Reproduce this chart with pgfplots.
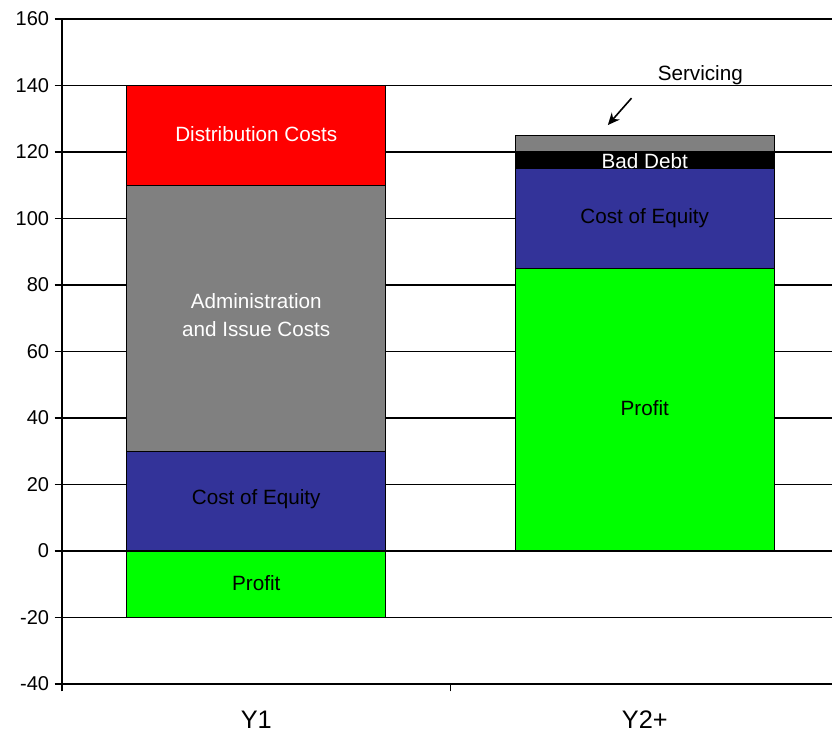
\documentclass[border=0pt]{standalone}
\usepackage{fontspec}
\setmainfont{Liberation Sans}
\usepackage{pgfplots}
\pgfplotsset{compat=1.18}
\usetikzlibrary{arrows.meta}
\definecolor{cRed}{HTML}{FF0000}
\definecolor{cGray}{HTML}{808080}
\definecolor{cBlue}{HTML}{333399}
\definecolor{cGreen}{HTML}{00FF00}
\begin{document}
\begin{tikzpicture}
\begin{axis}[
  scale only axis,
  width=577.5pt, height=498.75pt,
  xmin=-0.5, xmax=1.482, ymin=-40, ymax=160,
  axis lines=left,
  axis line style={-, line width=1.6pt},
  ytick={-40,-20,0,20,40,60,80,100,120,140,160},
  ymajorgrids,
  grid style={black, line width=1.1pt},
  tick style={black, line width=1.2pt},
  tick align=outside,
  major tick length=5.5pt,
  xtick={-0.5,0.5,1.5},
  xticklabels={},
  extra x ticks={0,1},
  extra x tick labels={Y1,Y2+},
  extra x tick style={major tick length=0pt,
    tick label style={font=\fontsize{19}{22}\selectfont, inner sep=0pt, anchor=north, yshift=-20pt}},
  yticklabel style={font=\fontsize{15}{18}\selectfont, inner sep=0pt, xshift=-4pt},
  /pgf/number format/assume math mode=true,
  seg/.style={ybar, bar width=194.25pt, bar shift=0pt, draw=black, line width=1.1pt},
  clip=false,
]
% Y1 (cumulative tops, drawn from the top segment down)
\addplot[seg, fill=cRed]   coordinates {(0,140)};
\addplot[seg, fill=cGray]  coordinates {(0,110)};
\addplot[seg, fill=cBlue]  coordinates {(0,30)};
\addplot[seg, fill=cGreen] coordinates {(0,-20)};
% Y2+
\addplot[seg, fill=cGray]  coordinates {(1,125)};
\addplot[seg, fill=black]  coordinates {(1,120)};
\addplot[seg, fill=cBlue]  coordinates {(1,115)};
\addplot[seg, fill=cGreen] coordinates {(1,85)};

\begin{scope}[every node/.style={font=\fontsize{15.5}{21}\selectfont, align=center}]
\node[white] at (axis cs:0,125.4) {Distribution Costs};
\node[white] at (axis cs:0,71) {Administration\\and Issue Costs};
\node[black] at (axis cs:0,15.6) {Cost of Equity};
\node[black] at (axis cs:0,-9.6) {Profit};
\node[white] at (axis cs:1,117.4) {Bad Debt};
\node[black] at (axis cs:1,100) {Cost of Equity};
\node[black] at (axis cs:1,43) {Profit};
\node[black] at (axis cs:1.143,143) {Servicing};
\end{scope}
\draw[-{Stealth[length=9pt,width=8pt]}, line width=1.2pt] (axis cs:0.966,136.2) -- (axis cs:0.905,128.1);
\end{axis}
\pgfresetboundingbox
\path (-46.5pt,-37.5pt) rectangle (577.5pt,513pt);
\end{tikzpicture}
\end{document}
